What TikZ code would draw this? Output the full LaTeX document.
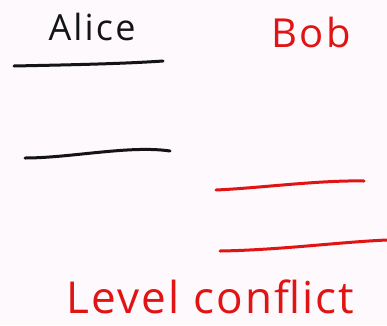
\documentclass[tikz,border=0pt]{standalone}
\usepackage{fontspec}
\setmainfont{Open Sans}
\newfontfamily\spaced[LetterSpace=5]{Open Sans}
\newfontfamily\spacedb[LetterSpace=6]{Open Sans}
\definecolor{bg}{RGB}{253,249,253}
\definecolor{pen}{RGB}{225,20,20}
\definecolor{ink}{RGB}{20,20,20}
\begin{document}
\begin{tikzpicture}[x=1pt,y=-1pt,
  stroke/.style={line width=3pt,line cap=round},
  hand/.style={inner sep=0pt,text depth=0pt,anchor=base}]
\fill[bg] (0,0) rectangle (387,325);
\useasboundingbox (0,0) rectangle (387,325);
\node[hand,text=ink,font=\spacedb\fontsize{36}{36}\selectfont] (alice) at (92,40) {Alice};
\node[hand,text=pen,font=\spacedb\fontsize{40}{40}\selectfont] (bob) at (311,47) {Bob};
\draw[stroke,ink] (14,66) .. controls (60,65) and (120,64) .. (163,61);
\draw[stroke,ink] (25,158) .. controls (70,158) and (130,145) .. (170,151);
\draw[stroke,pen] (216,190) .. controls (260,188) and (320,180) .. (364,181);
\draw[stroke,pen] (220,251) .. controls (280,250) and (340,242) .. (387,240);
\node[hand,text=pen,font=\spaced\fontsize{44}{44}\selectfont,anchor=base west] (conf) at (66,313) {Level conflict};
\end{tikzpicture}
\end{document}
